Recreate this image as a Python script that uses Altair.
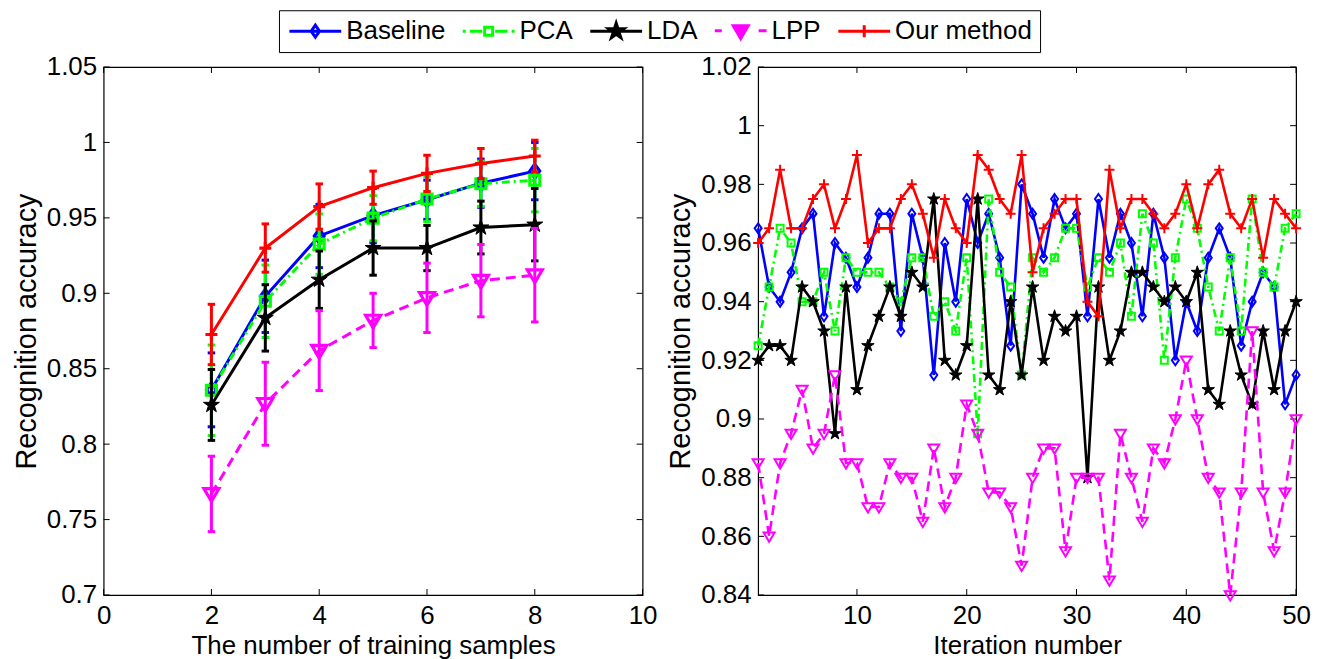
import math
import altair as alt
import pandas as pd

FONT = "Liberation Sans"
SERIES = ["Baseline", "PCA", "LDA", "LPP", "Our method"]
COLORS = ["#0000ff", "#00ff00", "#000000", "#ff00ff", "#ff0000"]

# ---------------- left panel data (mean accuracy and half error bar) ----------------
train_samples = [2, 3, 4, 5, 6, 7, 8]
left_baseline = [0.836, 0.898, 0.938, 0.9515, 0.962, 0.973, 0.981]
left_baseline_err = [0.0245, 0.024, 0.021, 0.018, 0.013, 0.016, 0.019]
left_pca = [0.8357, 0.8947, 0.9326, 0.9498, 0.9625, 0.9726, 0.975]
left_pca_err = [0.030, 0.024, 0.020, 0.015, 0.015, 0.015, 0.021]
left_lda = [0.826, 0.8837, 0.909, 0.930, 0.930, 0.9436, 0.9455]
left_lda_err = [0.0235, 0.022, 0.019, 0.018, 0.015, 0.0175, 0.024]
left_lpp = [0.767, 0.8268, 0.862, 0.882, 0.897, 0.9084, 0.912]
left_lpp_err = [0.025, 0.0275, 0.0265, 0.018, 0.023, 0.024, 0.031]
left_ours = [0.8727, 0.930, 0.9575, 0.970, 0.9795, 0.986, 0.991]
left_ours_err = [0.020, 0.016, 0.015, 0.011, 0.012, 0.010, 0.0105]

left_xticks = [0, 2, 4, 6, 8, 10]
left_yticks = [0.7, 0.75, 0.8, 0.85, 0.9, 0.95, 1.0, 1.05]

# ---------------- right panel data (accuracy per iteration) ----------------
iterations = list(range(1, 51))
right_baseline = [0.965, 0.945, 0.94, 0.95, 0.965, 0.97, 0.935, 0.96, 0.955, 0.945,
                  0.955, 0.97, 0.97, 0.93, 0.97, 0.955, 0.915, 0.96, 0.94, 0.975,
                  0.96, 0.97, 0.955, 0.925, 0.98, 0.97, 0.955, 0.975, 0.965, 0.97,
                  0.935, 0.975, 0.955, 0.97, 0.96, 0.935, 0.97, 0.955, 0.92, 0.94,
                  0.93, 0.955, 0.965, 0.955, 0.925, 0.94, 0.95, 0.945, 0.905, 0.915]
right_pca = [0.925, 0.945, 0.965, 0.96, 0.94, 0.94, 0.95, 0.93, 0.955, 0.95,
             0.95, 0.95, 0.945, 0.94, 0.955, 0.955, 0.935, 0.94, 0.93, 0.955,
             0.895, 0.975, 0.95, 0.945, 0.915, 0.955, 0.95, 0.955, 0.965, 0.965,
             0.945, 0.955, 0.95, 0.96, 0.935, 0.97, 0.96, 0.92, 0.955, 0.975,
             0.965, 0.945, 0.93, 0.955, 0.93, 0.975, 0.95, 0.945, 0.965, 0.97]
right_lda = [0.92, 0.925, 0.925, 0.92, 0.945, 0.94, 0.93, 0.895, 0.945, 0.91,
             0.925, 0.935, 0.945, 0.935, 0.95, 0.945, 0.975, 0.92, 0.915, 0.925,
             0.975, 0.915, 0.91, 0.94, 0.915, 0.945, 0.92, 0.935, 0.93, 0.935,
             0.88, 0.945, 0.92, 0.93, 0.95, 0.95, 0.945, 0.94, 0.945, 0.94,
             0.95, 0.91, 0.905, 0.93, 0.915, 0.905, 0.93, 0.91, 0.93, 0.94]
right_lpp = [0.885, 0.86, 0.885, 0.895, 0.91, 0.89, 0.895, 0.915, 0.885, 0.885,
             0.87, 0.87, 0.885, 0.88, 0.88, 0.865, 0.89, 0.87, 0.88, 0.905,
             0.895, 0.875, 0.875, 0.87, 0.85, 0.88, 0.89, 0.89, 0.855, 0.88,
             0.88, 0.88, 0.845, 0.895, 0.88, 0.865, 0.89, 0.885, 0.9, 0.92,
             0.9, 0.88, 0.875, 0.84, 0.875, 0.93, 0.875, 0.855, 0.875, 0.9]
right_ours = [0.96, 0.965, 0.985, 0.965, 0.965, 0.975, 0.98, 0.965, 0.975, 0.99,
              0.96, 0.965, 0.965, 0.975, 0.98, 0.97, 0.955, 0.975, 0.965, 0.96,
              0.99, 0.985, 0.975, 0.97, 0.99, 0.95, 0.965, 0.97, 0.975, 0.975,
              0.94, 0.935, 0.985, 0.965, 0.975, 0.975, 0.97, 0.965, 0.97, 0.98,
              0.965, 0.98, 0.985, 0.97, 0.965, 0.975, 0.955, 0.975, 0.97, 0.965]

right_xticks = [10, 20, 30, 40, 50]
right_yticks = [0.84, 0.86, 0.88, 0.9, 0.92, 0.94, 0.96, 0.98, 1.0, 1.02]


# ---------------- marker shapes ----------------
def star_path(r=1.0, inner=0.382):
    pts = []
    for k in range(10):
        ang = math.radians(-90 + 36 * k)
        rr = r if k % 2 == 0 else r * inner
        pts.append(f"{rr * math.cos(ang):.3f},{rr * math.sin(ang):.3f}")
    return "M" + "L".join(pts) + "Z"


DIAMOND = "M0,-1L0.7,0L0,1L-0.7,0Z"
SQUARE = "M-1,-1L1,-1L1,1L-1,1Z"
STAR = star_path()
TRI = "M-1,-0.7L1,-0.7L0,1Z"
PLUS = "M-1,0L1,0M0,-1L0,1"
CAP = "M-1,0L1,0"

SHAPES = [DIAMOND, SQUARE, STAR, TRI, PLUS]
FILLED = [False, False, True, False, False]
DASHES = [None, [8, 4, 2, 4], None, [10, 6], None]
SIZE_RIGHT = [100, 49, 173, 121, 100]
SIZE_LEFT = [196, 100, 283, 225, 144]

LEGEND_PATHS = [
    "M-2.6,0L2.6,0M0,-0.6L0.42,0L0,0.6L-0.42,0Z",
    "M-2.6,0L-2.3,0M-1.9,0L-0.65,0M0.65,0L1.9,0M2.3,0L2.6,0M-0.4,-0.4L0.4,-0.4L0.4,0.4L-0.4,0.4Z",
    "M-2.6,0L2.6,0" + star_path(0.8),
    "M-2.6,0L-1.9,0M1.8,0L2.6,0M-0.75,-0.5L0.75,-0.5L0,0.8Z",
    "M-2.6,0L2.6,0M-0.6,0L0.6,0M0,-0.6L0,0.6",
]
LEGEND_FILLS = ["transparent", "transparent", "#000000", "#ff00ff", "transparent"]


def build_panel(xvals, ys, errs, xdomain, ydomain, xticks, yticks, xtitle, W, H,
                lw, pw, sizes, with_legend=False):
    xscale = alt.Scale(domain=xdomain, nice=False, zero=False)
    yscale = alt.Scale(domain=ydomain, nice=False, zero=False)
    xaxis = alt.Axis(title=xtitle, values=xticks, format="d", labelPadding=8,
                     titlePadding=4, titleFontSize=26, labelFlush=False)
    yaxis = alt.Axis(title="Recognition accuracy", values=yticks, format="~g",
                     labelPadding=7, titlePadding=5, titleFontSize=29, labelFlush=False)

    def X(f):
        return alt.X(f"{f}:Q", scale=xscale, axis=xaxis)

    def Y(f):
        return alt.Y(f"{f}:Q", scale=yscale, axis=yaxis)

    tx = pd.DataFrame({"t": xticks})
    ty = pd.DataFrame({"t": yticks})
    tick = dict(color="black", strokeWidth=1)
    layers = [
        alt.Chart(tx).mark_rule(**tick).encode(x=X("t"), y=alt.value(H), y2=alt.value(H - 6)),
        alt.Chart(tx).mark_rule(**tick).encode(x=X("t"), y=alt.value(0), y2=alt.value(6)),
        alt.Chart(ty).mark_rule(**tick).encode(y=Y("t"), x=alt.value(0), x2=alt.value(6)),
        alt.Chart(ty).mark_rule(**tick).encode(y=Y("t"), x=alt.value(W), x2=alt.value(W - 6)),
    ]

    for i, name in enumerate(SERIES):
        d = pd.DataFrame({"x": xvals, "y": ys[i]})
        c = COLORS[i]
        line_kw = dict(color=c, strokeWidth=lw)
        if DASHES[i]:
            line_kw["strokeDash"] = DASHES[i]
        layers.append(alt.Chart(d).mark_line(**line_kw).encode(x=X("x"), y=Y("y")))
        if errs is not None:
            d["lo"] = [m - e for m, e in zip(ys[i], errs[i])]
            d["hi"] = [m + e for m, e in zip(ys[i], errs[i])]
            layers.append(alt.Chart(d).mark_rule(color=c, strokeWidth=lw).encode(
                x=X("x"), y=Y("lo"), y2=alt.Y2("hi")))
            for f in ("lo", "hi"):
                layers.append(alt.Chart(d).mark_point(
                    shape=CAP, size=56, filled=False, color=c, strokeWidth=lw, opacity=1
                ).encode(x=X("x"), y=Y(f)))
        if FILLED[i]:
            pt = alt.Chart(d).mark_point(shape=SHAPES[i], size=sizes[i], filled=True, color=c,
                                         stroke=c, strokeWidth=1, opacity=1)
        else:
            pt = alt.Chart(d).mark_point(shape=SHAPES[i], size=sizes[i], filled=False, color=c,
                                         strokeWidth=pw, opacity=1)
        layers.append(pt.encode(x=X("x"), y=Y("y")))

    if with_legend:
        leg_df = pd.DataFrame({"series": SERIES, "lx": [None] * 5, "ly": [None] * 5})
        leg = alt.Legend(
            title=None, orient="none", legendX=176, legendY=-57, direction="horizontal",
            columns=5, symbolSize=400, symbolStrokeWidth=3, symbolOffset=16, labelOffset=18,
            labelFont=FONT, labelFontSize=26, labelColor="black", labelLimit=400,
            columnPadding=11, padding=7.5, strokeColor="black", fillColor="white",
        )
        layers.append(alt.Chart(leg_df).mark_point(filled=False, strokeWidth=3, opacity=1).encode(
            x=X("lx"), y=Y("ly"),
            stroke=alt.Stroke("series:N", scale=alt.Scale(domain=SERIES, range=COLORS), legend=leg),
            fill=alt.Fill("series:N", scale=alt.Scale(domain=SERIES, range=LEGEND_FILLS), legend=leg),
            shape=alt.Shape("series:N", scale=alt.Scale(domain=SERIES, range=LEGEND_PATHS), legend=leg),
        ))

    return alt.layer(*layers).properties(width=W, height=H)


left = build_panel(
    train_samples,
    [left_baseline, left_pca, left_lda, left_lpp, left_ours],
    [left_baseline_err, left_pca_err, left_lda_err, left_lpp_err, left_ours_err],
    [0, 10], [0.7, 1.05], left_xticks, left_yticks, "The number of training samples",
    541, 530, 3, 3.2, SIZE_LEFT, with_legend=True,
)
right = build_panel(
    iterations,
    [right_baseline, right_pca, right_lda, right_lpp, right_ours],
    None,
    [1, 50], [0.84, 1.02], right_xticks, right_yticks, "Iteration number",
    540, 530, 2.6, 2, SIZE_RIGHT,
)

chart = alt.hconcat(left, right, spacing=116, bounds="flush").properties(
    padding={"left": 3, "top": 0, "right": 5, "bottom": 0}
).configure_view(
    stroke="black", strokeWidth=1.2, fill="white"
).configure_axis(
    labelFont=FONT, labelFontSize=26, labelColor="black",
    titleFont=FONT, titleFontSize=26, titleFontWeight="normal", titleColor="black",
    ticks=False, tickSize=0, domain=False, grid=False,
)

chart.save("out.html", embed_options={"renderer": "svg", "actions": False})
